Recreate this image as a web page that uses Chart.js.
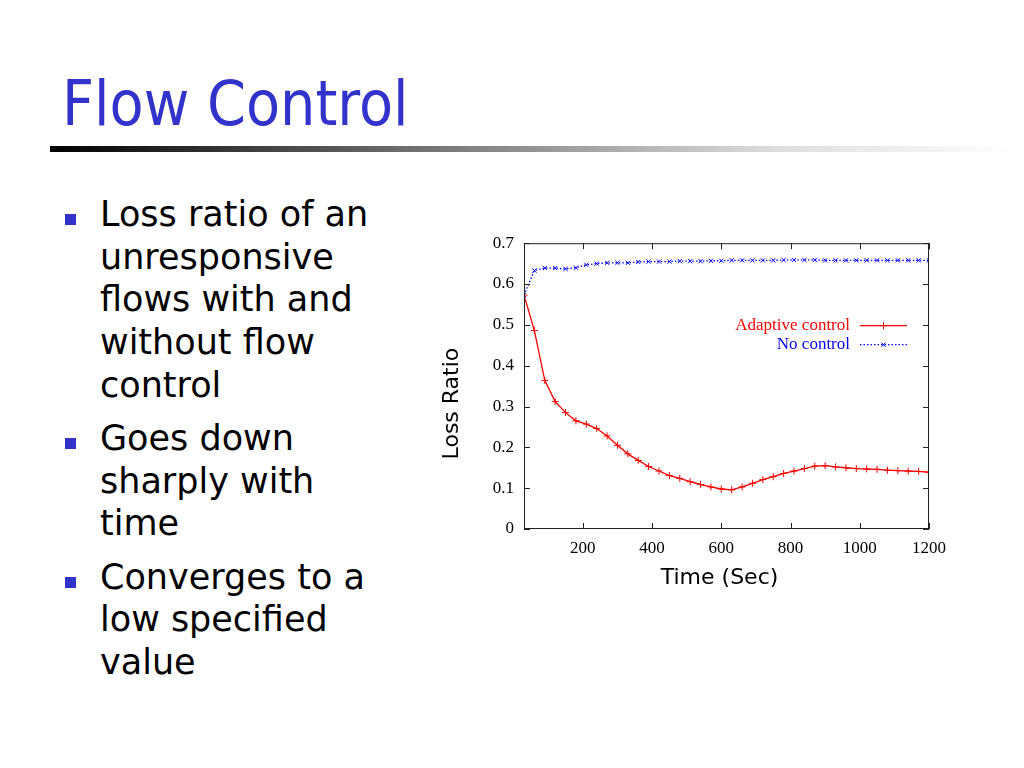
<!DOCTYPE html>
<html>
<head>
<meta charset="utf-8">
<script src="https://cdn.jsdelivr.net/npm/chart.js@4/dist/chart.umd.min.js"></script>
<style>
  html, body { margin: 0; padding: 0; background: #fff; }
  body { width: 1024px; height: 768px; position: relative; overflow: hidden; font-family: 'DejaVu Sans', sans-serif; }
  #title { position: absolute; left: 62px; top: 66px; margin: 0; font-family: 'DejaVu Sans Condensed', 'DejaVu Sans', sans-serif; font-stretch: condensed; font-weight: normal; font-size: 62px; line-height: 76px; color: #3333cc; }
  #rule { position: absolute; left: 50px; top: 146px; width: 965px; height: 6px; background: linear-gradient(to right, #000 0%, #777 40%, #ddd 75%, #fff 100%); }
  #points { position: absolute; left: 100px; top: 193px; margin: 0; padding: 0; list-style: none; font-size: 35px; line-height: 42.7px; color: #000; }
  #points li { position: relative; margin-bottom: 10.5px; }
  #points li::before { content: ''; position: absolute; left: -35px; top: 21px; width: 11px; height: 11px; background: #3333cc; }
  #wrap { position: absolute; left: 430px; top: 223px; width: 530px; height: 377px; }
</style>
</head>
<body>
<h1 id="title">Flow Control</h1>
<div id="rule"></div>
<ul id="points">
  <li>Loss ratio of an<br>unresponsive<br>flows with and<br>without flow<br>control</li>
  <li>Goes down<br>sharply with<br>time</li>
  <li>Converges to a<br>low specified<br>value</li>
</ul>
<div id="wrap"><canvas id="lossChart"></canvas></div>
<script>
// time axis, seconds
const times = [30, 60, 90, 120, 150, 180, 210, 240, 270, 300,
  330, 360, 390, 420, 450, 480, 510, 540, 570, 600,
  630, 660, 690, 720, 750, 780, 810, 840, 870, 900,
  930, 960, 990, 1020, 1050, 1080, 1110, 1140, 1170, 1200];

const adaptive = [0.573, 0.486, 0.364, 0.312, 0.285, 0.265, 0.257, 0.246, 0.228, 0.205,
  0.184, 0.168, 0.153, 0.142, 0.131, 0.124, 0.116, 0.109, 0.103, 0.098,
  0.096, 0.103, 0.112, 0.121, 0.128, 0.136, 0.142, 0.148, 0.154, 0.155,
  0.152, 0.150, 0.148, 0.147, 0.146, 0.144, 0.143, 0.142, 0.141, 0.139];

const noControl = [0.573, 0.633, 0.639, 0.639, 0.637, 0.640, 0.647, 0.650, 0.652, 0.652,
  0.652, 0.654, 0.655, 0.655, 0.655, 0.656, 0.656, 0.656, 0.657, 0.657,
  0.658, 0.658, 0.658, 0.658, 0.658, 0.659, 0.659, 0.659, 0.659, 0.658,
  0.658, 0.658, 0.658, 0.658, 0.658, 0.658, 0.658, 0.658, 0.658, 0.658];

const xTicks = [200, 400, 600, 800, 1000, 1200];
const yTicks = [0, 0.1, 0.2, 0.3, 0.4, 0.5, 0.6, 0.7];

const SERIF = "'Liberation Serif', 'Times New Roman', serif";
const SANS = "'DejaVu Sans', Verdana, sans-serif";

// gnuplot style frame: full box with inward ticks on all four sides
const frame = {
  id: 'frame',
  afterDatasetsDraw(chart) {
    const { ctx, chartArea: a, scales: { x, y } } = chart;
    const len = 6;
    ctx.save();
    ctx.strokeStyle = '#222';
    ctx.lineWidth = 1;
    ctx.strokeRect(a.left + 0.5, a.top + 0.5, a.right - a.left - 1, a.bottom - a.top - 1);
    ctx.beginPath();
    xTicks.forEach(v => {
      const px = Math.round(x.getPixelForValue(v)) + 0.5;
      ctx.moveTo(px, a.bottom); ctx.lineTo(px, a.bottom - len);
      ctx.moveTo(px, a.top); ctx.lineTo(px, a.top + len);
    });
    yTicks.forEach(v => {
      const py = Math.round(y.getPixelForValue(v)) + 0.5;
      ctx.moveTo(a.left, py); ctx.lineTo(a.left + len, py);
      ctx.moveTo(a.right, py); ctx.lineTo(a.right - len, py);
    });
    ctx.stroke();
    ctx.restore();
  }
};

// key in the upper right: text right aligned, sample line to its right
const key = {
  id: 'key',
  afterDraw(chart) {
    const { ctx, chartArea: a } = chart;
    ctx.save();
    ctx.font = '17px ' + SERIF;
    ctx.textAlign = 'right';
    ctx.textBaseline = 'middle';
    chart.data.datasets.forEach((ds, i) => {
      const yy = a.top + 82 + i * 19;
      const x0 = a.right - 69, x1 = a.right - 22;
      ctx.fillStyle = ds.borderColor;
      ctx.fillText(ds.label, a.right - 79, yy);
      ctx.strokeStyle = ds.borderColor;
      ctx.lineWidth = ds.borderWidth;
      ctx.setLineDash(ds.borderDash || []);
      ctx.beginPath();
      ctx.moveTo(x0, yy + 0.5); ctx.lineTo(x1, yy + 0.5);
      ctx.stroke();
      ctx.setLineDash([]);
      ctx.lineWidth = 1;
      Chart.helpers.drawPoint(ctx, { pointStyle: ds.pointStyle, radius: ds.pointRadius, borderWidth: 1 }, (x0 + x1) / 2, yy + 0.5);
    });
    ctx.restore();
  }
};

new Chart(document.getElementById('lossChart'), {
  type: 'line',
  data: {
    datasets: [
      {
        label: 'Adaptive control',
        data: times.map((t, i) => ({ x: t, y: adaptive[i] })),
        borderColor: '#ff0000', backgroundColor: '#ff0000',
        borderWidth: 1.3, tension: 0, fill: false,
        pointStyle: 'cross', pointRadius: 3.5, pointBorderWidth: 1,
      },
      {
        label: 'No control',
        data: times.map((t, i) => ({ x: t, y: noControl[i] })),
        borderColor: '#0000ff', backgroundColor: '#0000ff',
        borderWidth: 1.3, borderDash: [1.5, 2], tension: 0, fill: false,
        pointStyle: 'crossRot', pointRadius: 3, pointBorderWidth: 1,
      },
    ],
  },
  options: {
    responsive: true,
    maintainAspectRatio: false,
    animation: false,
    layout: { padding: { top: 0, right: 31, left: 0, bottom: 0 } },
    plugins: { legend: { display: false }, tooltip: { enabled: false } },
    scales: {
      x: {
        type: 'linear', min: 30, max: 1200,
        grid: { display: false, drawTicks: false },
        border: { display: false },
        afterBuildTicks: s => { s.ticks = xTicks.map(v => ({ value: v })); },
        afterFit: s => { s.height = 71; },
        ticks: { color: '#000', padding: 9, font: { family: SERIF, size: 17 }, callback: v => String(v), maxRotation: 0 },
        title: { display: true, text: 'Time (Sec)\u00a0\u00a0', color: '#000', font: { family: SANS, size: 22 }, padding: { top: 0, bottom: 9 } },
      },
      y: {
        min: 0, max: 0.7,
        grid: { display: false, drawTicks: false },
        border: { display: false },
        afterBuildTicks: s => { s.ticks = yTicks.map(v => ({ value: v })); },
        afterFit: s => { s.width = 94; },
        ticks: { color: '#000', padding: 10, font: { family: SERIF, size: 17 }, callback: v => String(v) },
        title: { display: true, text: 'Loss Ratio' + '\u00a0'.repeat(5), color: '#000', font: { family: SANS, size: 22 }, padding: { top: 9, bottom: 0 } },
      },
    },
  },
  plugins: [frame, key],
});
</script>
</body>
</html>
